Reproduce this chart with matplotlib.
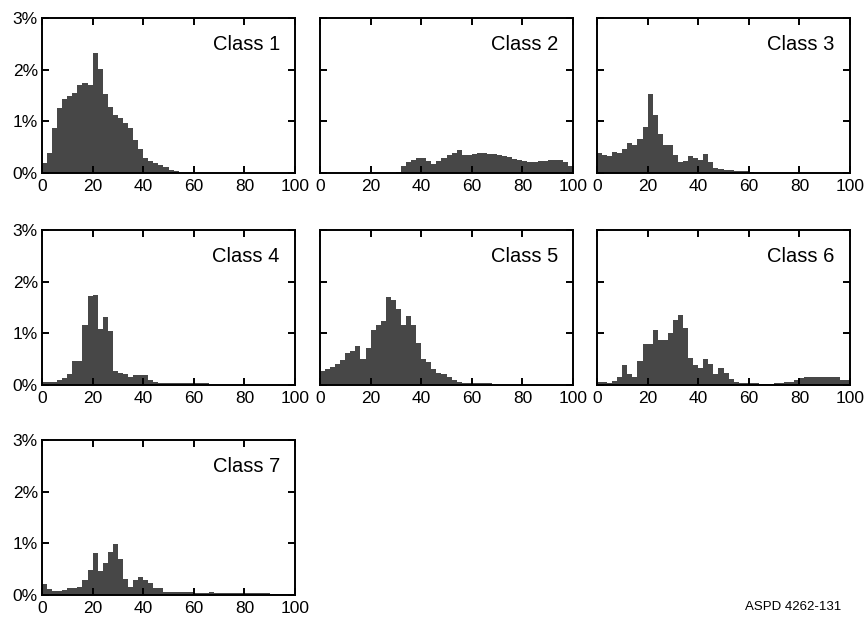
import matplotlib
matplotlib.use("Agg")
import matplotlib.pyplot as plt
import numpy as np

plt.rcParams['font.family'] = ['Liberation Sans', 'DejaVu Sans']

bin_edges = list(range(0, 102, 2))

class_names = ["Class 1", "Class 2", "Class 3", "Class 4", "Class 5", "Class 6", "Class 7"]

class1 = [0.19, 0.39, 0.88, 1.26, 1.44, 1.50, 1.55, 1.71, 1.75, 1.70,
          2.32, 2.02, 1.53, 1.27, 1.12, 1.06, 0.97, 0.88, 0.63, 0.46,
          0.29, 0.24, 0.19, 0.15, 0.11, 0.06, 0.03, 0, 0, 0,
          0, 0, 0, 0, 0, 0, 0, 0, 0, 0,
          0, 0, 0, 0, 0, 0, 0, 0, 0, 0]
class2 = [0, 0, 0, 0, 0, 0, 0, 0, 0, 0,
          0, 0, 0, 0, 0, 0.01, 0.13, 0.21, 0.25, 0.29,
          0.29, 0.23, 0.18, 0.23, 0.29, 0.35, 0.39, 0.45, 0.35, 0.34,
          0.37, 0.39, 0.39, 0.37, 0.37, 0.34, 0.32, 0.31, 0.28, 0.25,
          0.23, 0.21, 0.21, 0.23, 0.23, 0.25, 0.25, 0.25, 0.21, 0.13]
class3 = [0.39, 0.35, 0.32, 0.41, 0.39, 0.46, 0.58, 0.55, 0.66, 0.90,
          1.53, 1.13, 0.76, 0.54, 0.54, 0.34, 0.21, 0.23, 0.32, 0.30,
          0.26, 0.37, 0.21, 0.10, 0.08, 0.05, 0.05, 0.03, 0.03, 0.03,
          0.02, 0, 0, 0, 0, 0, 0, 0, 0, 0,
          0, 0, 0, 0, 0, 0, 0, 0, 0, 0]
class4 = [0.06, 0.06, 0.06, 0.10, 0.13, 0.21, 0.47, 0.47, 1.16, 1.72,
          1.75, 1.09, 1.32, 1.05, 0.28, 0.24, 0.21, 0.16, 0.19, 0.19,
          0.19, 0.10, 0.06, 0.04, 0.03, 0.03, 0.03, 0.03, 0.03, 0.03,
          0.03, 0.03, 0.03, 0, 0, 0, 0, 0, 0, 0,
          0, 0, 0, 0, 0, 0, 0, 0, 0, 0]
class5 = [0.28, 0.31, 0.35, 0.40, 0.49, 0.61, 0.66, 0.76, 0.50, 0.72,
          1.06, 1.16, 1.24, 1.71, 1.65, 1.48, 1.16, 1.34, 1.16, 0.82,
          0.51, 0.45, 0.31, 0.24, 0.21, 0.15, 0.10, 0.06, 0.04, 0.04,
          0.03, 0.03, 0.03, 0.03, 0, 0, 0, 0, 0, 0,
          0, 0, 0, 0, 0, 0, 0, 0, 0, 0]
class6 = [0.06, 0.06, 0.04, 0.08, 0.16, 0.39, 0.21, 0.16, 0.46, 0.80,
          0.80, 1.06, 0.87, 0.88, 1.00, 1.25, 1.36, 1.11, 0.53, 0.39,
          0.32, 0.51, 0.40, 0.22, 0.32, 0.24, 0.11, 0.06, 0.04, 0.04,
          0.04, 0.03, 0.02, 0.02, 0.02, 0.04, 0.04, 0.06, 0.06, 0.10,
          0.13, 0.16, 0.16, 0.16, 0.16, 0.16, 0.16, 0.15, 0.10, 0.10]
class7 = [0.21, 0.11, 0.07, 0.07, 0.10, 0.13, 0.13, 0.16, 0.29, 0.48,
          0.82, 0.46, 0.62, 0.83, 0.99, 0.70, 0.31, 0.16, 0.29, 0.34,
          0.29, 0.23, 0.13, 0.13, 0.05, 0.05, 0.05, 0.05, 0.05, 0.05,
          0.03, 0.03, 0.03, 0.05, 0.03, 0.03, 0.03, 0.03, 0.03, 0.03,
          0.03, 0.03, 0.03, 0.03, 0.03, 0.02, 0.02, 0.02, 0.02, 0.02]

series = [class1, class2, class3, class4, class5, class6, class7]

x_ticks = [0, 20, 40, 60, 80, 100]
y_ticks = [0, 1, 2, 3]
y_labels = ["0%", "1%", "2%", "3%"]

W, H = 864, 622
fig = plt.figure(figsize=(W / 100, H / 100), dpi=100)

col_left = [42, 320, 597]
ax_w = 253
row_bottom = [173, 385, 595]
ax_h = 155

bar_color = "#474747"

for i, (name, vals) in enumerate(zip(class_names, series)):
    r, c = divmod(i, 3)
    l = col_left[c]
    b = row_bottom[r]
    ax = fig.add_axes([l / W, 1 - b / H, ax_w / W, ax_h / H])
    ax.stairs(vals, bin_edges, fill=True, color=bar_color, linewidth=0)
    ax.set_xlim(0, 100)
    ax.set_ylim(0, 3)
    ax.set_xticks(x_ticks)
    ax.set_xticklabels([str(t) for t in x_ticks], fontsize=12.5)
    ax.set_yticks(y_ticks)
    if c == 0:
        ax.set_yticklabels(y_labels, fontsize=12.5)
    else:
        ax.set_yticklabels([])
    ax.tick_params(direction="in", length=5, width=1.4, top=True, right=True,
                   pad=3, colors="black")
    ax.tick_params(axis="x", pad=4.5)
    for s in ax.spines.values():
        s.set_linewidth(1.4)
    ax.text(0.94, 0.83, name, transform=ax.transAxes, ha="right", va="center",
            fontsize=14.5)

fig.text(841 / W, 1 - 607 / H, "ASPD 4262-131", ha="right", va="center", fontsize=9.5)

fig.savefig("out.png", dpi=100)
